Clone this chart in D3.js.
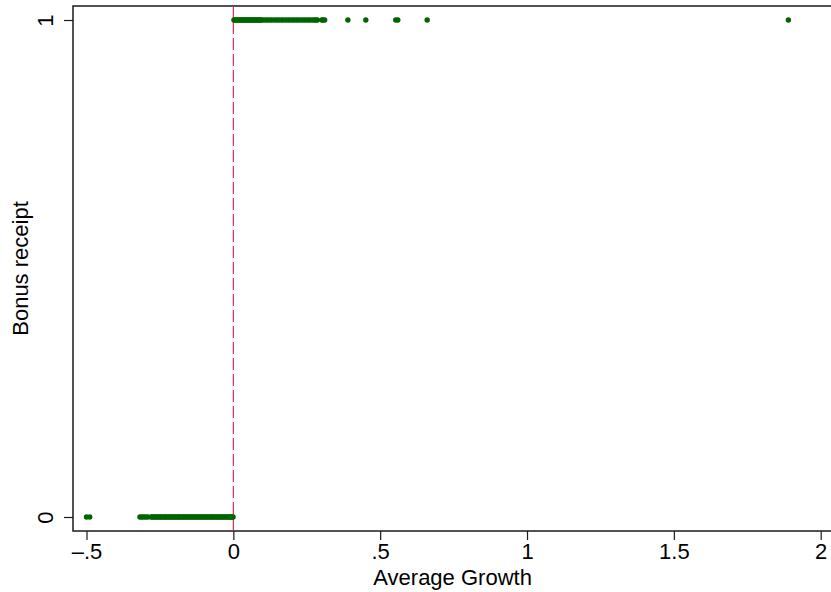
<!DOCTYPE html>
<html>
<head>
<meta charset="utf-8">
<script src="https://cdn.jsdelivr.net/npm/d3@7"></script>
<style>
  html, body { margin: 0; padding: 0; background: #fff; }
  svg { display: block; font-family: "Liberation Sans", Arial, sans-serif; }
</style>
</head>
<body>
<svg id="chart" width="831" height="592"></svg>
<script>
// ---- data ----
const xTicks = [-0.5, 0, 0.5, 1, 1.5, 2];
const xTickLabels = ["–.5", "0", ".5", "1", "1.5", "2"];
const yTicks = [0, 1];
const yTickLabels = ["0", "1"];

// Average growth of units that did not receive the bonus (y = 0)
const growthNoBonus = [
  -0.500, -0.489,
  -0.318, -0.312, -0.305, -0.298, -0.291,
  -0.280, -0.276, -0.271, -0.266, -0.262, -0.258, -0.253, -0.249, -0.244, -0.240, -0.235,
  -0.231, -0.227, -0.222, -0.218, -0.213, -0.209, -0.204, -0.200, -0.196, -0.191,
  -0.187, -0.182, -0.178, -0.173, -0.169, -0.165, -0.160, -0.156, -0.151, -0.147,
  -0.142, -0.138, -0.134, -0.129, -0.125, -0.120, -0.116, -0.111, -0.107, -0.103,
  -0.098, -0.094, -0.089, -0.085, -0.080, -0.076, -0.072, -0.067, -0.063, -0.058,
  -0.054, -0.049, -0.045, -0.041, -0.036, -0.032, -0.027, -0.023, -0.018, -0.014,
  -0.010, -0.006, -0.003, -0.001
];
// Average growth of units that received the bonus (y = 1)
const growthBonus = [
  0.002, 0.006, 0.009, 0.013, 0.017, 0.021, 0.024, 0.028, 0.032, 0.036, 0.039,
  0.043, 0.047, 0.051, 0.054, 0.058, 0.062, 0.066, 0.069, 0.073, 0.077, 0.081,
  0.084, 0.088, 0.092, 0.095,
  0.101, 0.109, 0.116, 0.124, 0.131, 0.139, 0.147, 0.154, 0.162, 0.169, 0.177,
  0.185, 0.192, 0.200, 0.207, 0.215, 0.222, 0.230, 0.238, 0.245, 0.253, 0.260,
  0.268, 0.275, 0.281, 0.286,
  0.301, 0.305, 0.311, 0.390, 0.451, 0.553, 0.560, 0.660, 1.890
];
const cutoff = 0;

// ---- layout ----
const svg = d3.select("#chart");
const frame = { left: 73, top: 6, bottom: 531, right: 834 };
const fontSize = 22;

const x = d3.scaleLinear().domain([-0.5, 2]).range([86.5, 820.7]);
const y = d3.scaleLinear().domain([0, 1]).range([517, 20]);

const points = growthNoBonus.map(v => ({ g: v, b: 0 }))
  .concat(growthBonus.map(v => ({ g: v, b: 1 })));

// frame
svg.append("rect")
  .attr("x", frame.left).attr("y", frame.top)
  .attr("width", frame.right - frame.left).attr("height", frame.bottom - frame.top)
  .attr("fill", "none").attr("stroke", "#1a1a1a").attr("stroke-width", 1.5);

// x axis
const xAxis = svg.append("g")
  .attr("transform", `translate(0,${frame.bottom})`)
  .call(d3.axisBottom(x).tickValues(xTicks).tickSize(9).tickPadding(3)
    .tickFormat((d, i) => xTickLabels[i]));
xAxis.select(".domain").remove();
xAxis.selectAll(".tick line").attr("stroke", "#1a1a1a").attr("stroke-width", 1.2);
xAxis.selectAll(".tick text").attr("font-size", fontSize).attr("fill", "#000")
  .attr("font-family", "Liberation Sans, Arial, sans-serif");

// y axis
const yAxis = svg.append("g")
  .attr("transform", `translate(${frame.left},0)`)
  .call(d3.axisLeft(y).tickValues(yTicks).tickSize(9)
    .tickFormat((d, i) => yTickLabels[i]));
yAxis.select(".domain").remove();
yAxis.selectAll(".tick line").attr("stroke", "#1a1a1a").attr("stroke-width", 1.2);
yAxis.selectAll(".tick text")
  .attr("font-size", fontSize).attr("fill", "#000")
  .attr("font-family", "Liberation Sans, Arial, sans-serif")
  .attr("x", null).attr("dy", null)
  .attr("text-anchor", "middle")
  .attr("transform", "translate(-20,0) rotate(-90)");

// cutoff line
svg.append("line")
  .attr("x1", x(cutoff)).attr("x2", x(cutoff))
  .attr("y1", frame.top).attr("y2", frame.bottom)
  .attr("stroke", "#d42a5e").attr("stroke-width", 1.2)
  .attr("stroke-dasharray", "12,4");

// points
svg.append("g").selectAll("circle").data(points).join("circle")
  .attr("cx", d => x(d.g)).attr("cy", d => y(d.b))
  .attr("r", 2.7).attr("fill", "#006400");

// axis titles
svg.append("text")
  .attr("x", (x(-0.5) + x(2)) / 2 - 1).attr("y", 585)
  .attr("text-anchor", "middle").attr("font-size", fontSize).attr("fill", "#000")
  .text("Average Growth");
svg.append("text")
  .attr("transform", `translate(28,${(frame.top + frame.bottom) / 2}) rotate(-90)`)
  .attr("text-anchor", "middle").attr("font-size", fontSize).attr("fill", "#000")
  .text("Bonus receipt");
</script>
</body>
</html>
